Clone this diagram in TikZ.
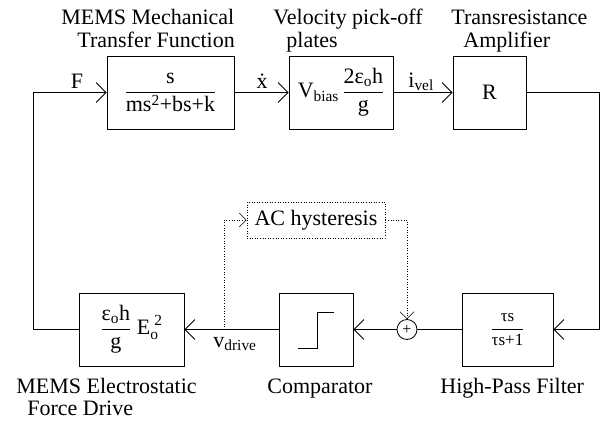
\documentclass[tikz,border=0pt]{standalone}
\usepackage{amsmath}
\usepackage{fontspec}
\setmainfont{Liberation Serif}
\usetikzlibrary{arrows.meta}

\begin{document}
\begin{tikzpicture}[x=1pt, y=-1pt, line width=0.8pt,
    every node/.style={font=\fontsize{22}{24}\selectfont},
    block/.style={draw, inner sep=0pt, minimum height=73pt},
    sig/.style={-{Straight Barb[length=10pt,width=20pt]}},
    aux/.style={dotted, line width=0.6pt, -{Straight Barb[length=7pt,width=14pt]}},
    title/.style={anchor=base west, inner sep=0pt}]
  \useasboundingbox (0,0) rectangle (608,423);
  % forward path
  \node[block, minimum width=127pt] (mech) at (170.5,92.5) {$\dfrac{\text{s}}{\text{ms}^{\text{2}}\text{+bs+k}}$};
  \node[block, minimum width=104pt] (pick) at (341,92.5) {$\text{V}_{\text{bias}}\,\dfrac{\text{2ε}_{\text{o}}\text{h}}{\text{g}}$};
  \node[block, minimum width=73pt] (amp) at (489.5,92.5) {R};
  % return path
  \node[block, minimum width=91pt, font=\fontsize{17}{19}\selectfont] (hpf) at (507.5,329.5) {$\dfrac{\text{τs}}{\text{τs+1}}$};
  \node[draw, circle, minimum size=20pt, inner sep=0pt, font=\fontsize{16}{16}\selectfont] (sum) at (407,329.5) {+};
  \node[block, minimum width=74pt] (comp) at (316,329.5) {};
  \node[block, minimum width=105pt] (force) at (131.5,329.5) {$\dfrac{\text{ε}_{\text{o}}\text{h}}{\text{g}}\;\text{E}_{\text{o}}^{\;\text{2}}$};
  \node[draw, dotted, line width=0.6pt, inner sep=0pt, minimum width=138pt, minimum height=36pt] (hyst) at (316,220) {AC hysteresis};
  \draw[shift={(comp.center)}] (-18,18.5) -| (1,-17.5) -- (18,-17.5);
  \coordinate (lc) at (33,92.5);
  \coordinate (rc) at (599,329.5);
  \coordinate (tap) at (224,329.5);
  % connectors
  \draw[sig] (mech.east) -- (pick.west);
  \draw[sig] (pick.east) -- (amp.west);
  \draw[sig] (amp.east) -| (rc) -- (hpf.east);
  \draw (hpf.west) -- (sum.east);
  \draw[sig] (sum.west) -- (comp.east);
  \draw[sig] (comp.west) -- (force.east);
  \draw[sig] (force.west) -| (lc) -- (mech.west);
  \draw[aux] (tap) |- (hyst.west);
  \draw[aux] (hyst.east) -| (sum.north);
  % signal names
  \node[anchor=base, inner sep=0pt] (fsig) at (77,88) {F};
  \node[anchor=base, inner sep=0pt] (xsig) at (262,88) {\.{x}};
  \node[title] (isig) at (408,87) {$\text{i}_{\text{vel}}$};
  \node[title] (vsig) at (213,347) {$\text{v}_{\text{drive}}$};
  % block titles
  \node[title] at (61,24) {MEMS Mechanical};
  \node[title] at (77,47) {Transfer Function};
  \node[title] at (273,24) {Velocity pick-off};
  \node[title] at (286,47) {plates};
  \node[title] at (451,24) {Transresistance};
  \node[title] at (463,47) {Amplifier};
  \node[title] at (16,393) {MEMS Electrostatic};
  \node[title] at (27,415) {Force Drive};
  \node[title] at (267,393) {Comparator};
  \node[title] at (440,393) {High-Pass Filter};
\end{tikzpicture}
\end{document}
